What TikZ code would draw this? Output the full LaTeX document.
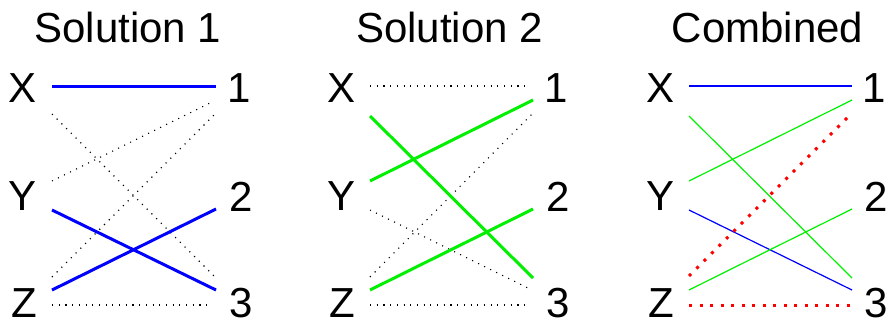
\documentclass[tikz,border=0pt]{standalone}
\usepackage{fontspec}
\setmainfont{Liberation Sans}
\definecolor{pblue}{RGB}{0,0,255}
\definecolor{pgreen}{RGB}{0,240,0}
\definecolor{pred}{RGB}{255,0,0}
\tikzset{
  lbl/.style={anchor=base, inner sep=0pt, font=\fontsize{42}{50}\selectfont},
  ttl/.style={anchor=base, inner sep=0pt, font=\fontsize{42}{50}\selectfont},
  dotline/.style={black, line width=1.1pt, dash pattern=on 1.1pt off 5.6pt},
  thickblue/.style={pblue, line width=3pt},
  thickgreen/.style={pgreen, line width=3pt},
  thinblue/.style={pblue, line width=1.2pt},
  thingreen/.style={pgreen, line width=1.2pt},
  reddot/.style={pred, line width=3pt, dash pattern=on 3pt off 7.5pt},
}
\begin{document}
\begin{tikzpicture}[x=1pt,y=-1pt]
\useasboundingbox (0,0) rectangle (890,322);
% titles
\node[ttl] (t1) at (128,42.5) {Solution 1};
\node[ttl] (t2) at (449.5,42.5) {Solution 2};
\node[ttl] (t3) at (767.5,42.5) {Combined};
% labels panel 1
\node[lbl] (aX) at (23,102) {X};
\node[lbl] (aY) at (23,210.5) {Y};
\node[lbl] (aZ) at (24,317) {Z};
\node[lbl] (a1) at (239,102) {1};
\node[lbl] (a2) at (241,211) {2};
\node[lbl] (a3) at (241,317) {3};
% labels panel 2
\node[lbl] (bX) at (341.5,102) {X};
\node[lbl] (bY) at (342,210.5) {Y};
\node[lbl] (bZ) at (342.5,317) {Z};
\node[lbl] (b1) at (556,102) {1};
\node[lbl] (b2) at (558,211) {2};
\node[lbl] (b3) at (558,317) {3};
% labels panel 3
\node[lbl] (cX) at (660,102) {X};
\node[lbl] (cY) at (660.5,210.5) {Y};
\node[lbl] (cZ) at (661,317) {Z};
\node[lbl] (c1) at (874,102) {1};
\node[lbl] (c2) at (876,211) {2};
\node[lbl] (c3) at (876,317) {3};
% ports panel 1
\coordinate (aXa) at (52,86);  \coordinate (aXb) at (52,114);
\coordinate (aYa) at (52,181); \coordinate (aYb) at (52,210);
\coordinate (aZa) at (52,277); \coordinate (aZb) at (52,290); \coordinate (aZc) at (52,305);
\coordinate (a1a) at (216,86); \coordinate (a1b) at (212,102); \coordinate (a1c) at (216,113);
\coordinate (a2a) at (216,209);
\coordinate (a3a) at (216,278); \coordinate (a3b) at (216,290); \coordinate (a3c) at (211,305);
% ports panel 2
\coordinate (bXa) at (370,86);  \coordinate (bXb) at (370,116);
\coordinate (bYa) at (370,181); \coordinate (bYb) at (370,210);
\coordinate (bZa) at (370,277); \coordinate (bZb) at (370,290); \coordinate (bZc) at (370,305);
\coordinate (b1a) at (530,86); \coordinate (b1b) at (533,100); \coordinate (b1c) at (533,113);
\coordinate (b2a) at (533,209);
\coordinate (b3a) at (533,278); \coordinate (b3b) at (530,289); \coordinate (b3c) at (530,305);
% ports panel 3
\coordinate (cXa) at (689,86);  \coordinate (cXb) at (689,116);
\coordinate (cYa) at (689,181); \coordinate (cYb) at (689,210);
\coordinate (cZa) at (689,276); \coordinate (cZb) at (689,290); \coordinate (cZc) at (689,305);
\coordinate (c1a) at (852,86); \coordinate (c1b) at (852,100); \coordinate (c1c) at (849,116);
\coordinate (c2a) at (852,209);
\coordinate (c3a) at (852,278); \coordinate (c3b) at (852,290); \coordinate (c3c) at (852,305);
% panel 1 edges
\draw[dotline] (aXb) -- (a3a);
\draw[dotline] (aYa) -- (a1b);
\draw[dotline] (aZa) -- (a1c);
\draw[dotline] (aZc) -- (a3c);
\draw[thickblue] (aXa) -- (a1a);
\draw[thickblue] (aYb) -- (a3b);
\draw[thickblue] (aZb) -- (a2a);
% panel 2 edges
\draw[dotline] (bXa) -- (b1a);
\draw[dotline] (bYb) -- (b3b);
\draw[dotline] (bZa) -- (b1c);
\draw[dotline] (bZc) -- (b3c);
\draw[thickgreen] (bXb) -- (b3a);
\draw[thickgreen] (bYa) -- (b1b);
\draw[thickgreen] (bZb) -- (b2a);
% panel 3 edges
\draw[thinblue] (cXa) -- (c1a);
\draw[thinblue] (cYb) -- (c3b);
\draw[thingreen] (cXb) -- (c3a);
\draw[thingreen] (cYa) -- (c1b);
\draw[thingreen] (cZb) -- (c2a);
\draw[reddot] (cZa) -- (c1c);
\draw[reddot] (cZc) -- (c3c);
\end{tikzpicture}
\end{document}
